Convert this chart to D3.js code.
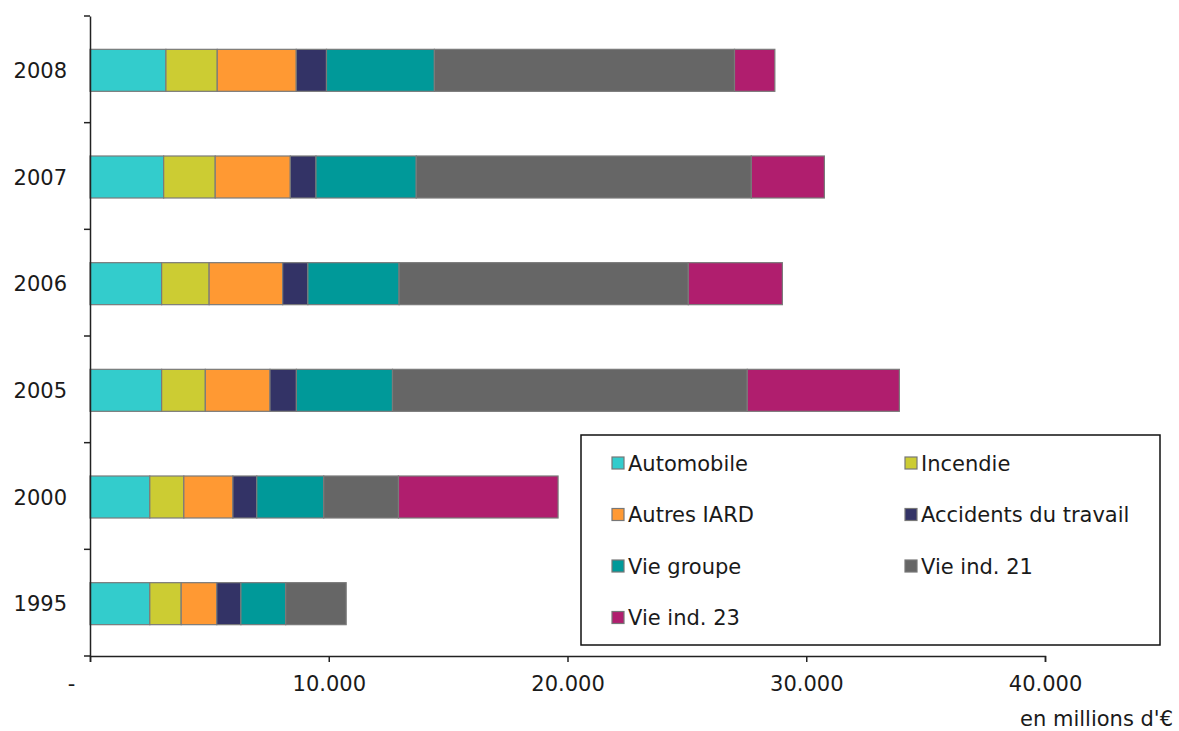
<!DOCTYPE html>
<html>
<head>
<meta charset="utf-8">
<script src="https://cdn.jsdelivr.net/npm/d3@7"></script>
<style>
  body { margin: 0; background: #fff; }
  text { font-family: "DejaVu Sans", Verdana, sans-serif; fill: #1a1a1a; }
</style>
</head>
<body>
<div id="chart"></div>
<script>
// years, top to bottom
const years = ["2008", "2007", "2006", "2005", "2000", "1995"];
const series = ["Automobile", "Incendie", "Autres IARD", "Accidents du travail", "Vie groupe", "Vie ind. 21", "Vie ind. 23"];
const colors = ["#33cccc", "#cccc33", "#ff9933", "#333366", "#009999", "#666666", "#b01e6e"];

// values in millions of euros, one array per series, same order as years
const automobile = [3180, 3085, 3000, 3000, 2505, 2505];
const incendie = [2150, 2160, 1990, 1830, 1425, 1315];
const autresIard = [3310, 3145, 3080, 2710, 2055, 1490];
const accidents = [1265, 1075, 1055, 1105, 1000, 1010];
const vieGroupe = [4520, 4200, 3820, 4025, 2805, 1875];
const vieInd21 = [12570, 14035, 12115, 14860, 3130, 2535];
const vieInd23 = [1690, 3060, 3940, 6370, 6685, 0];

const xTicks = [0, 10000, 20000, 30000, 40000];

const table = years.map((y, i) => ({
  year: y,
  "Automobile": automobile[i],
  "Incendie": incendie[i],
  "Autres IARD": autresIard[i],
  "Accidents du travail": accidents[i],
  "Vie groupe": vieGroupe[i],
  "Vie ind. 21": vieInd21[i],
  "Vie ind. 23": vieInd23[i]
}));

const width = 1179, height = 731;
const fs = 21;
const svg = d3.select("#chart").append("svg")
  .attr("width", width)
  .attr("height", height);

const x = d3.scaleLinear().domain([0, 40000]).range([90, 1045]);
const y = d3.scaleBand().domain(years).range([16, 656]);
const barH = 42;
const color = d3.scaleOrdinal().domain(series).range(colors);

const stacked = d3.stack().keys(series)(table);

svg.append("g")
  .selectAll("g")
  .data(stacked)
  .join("g")
  .attr("fill", d => color(d.key))
  .selectAll("rect")
  .data(d => d.filter(p => p[1] > p[0]))
  .join("rect")
  .attr("x", d => x(d[0]))
  .attr("width", d => x(d[1]) - x(d[0]))
  .attr("y", d => y(d.data.year) + (y.bandwidth() - barH) / 2 + 1)
  .attr("height", barH)
  .attr("stroke", "#7a7a7a")
  .attr("stroke-width", 1.2);

// x axis
const fmt = d3.formatLocale({ decimal: ",", thousands: ".", grouping: [3], currency: ["", "€"] }).format(",d");
const xAxis = svg.append("g")
  .attr("transform", "translate(0,656)")
  .call(d3.axisBottom(x).tickValues(xTicks).tickSize(6).tickPadding(14)
    .tickFormat(d => d === 0 ? "-" : fmt(d)));
xAxis.select(".domain").attr("stroke", "#222").attr("stroke-width", 1.5);
xAxis.selectAll(".tick line").attr("stroke", "#222").attr("stroke-width", 1.5);
xAxis.selectAll(".tick text").attr("font-size", fs).attr("fill", "#1a1a1a")
  .attr("dx", d => d === 0 ? -19 : 0);

// y axis
const yAxis = svg.append("g")
  .attr("transform", "translate(90,0)")
  .call(d3.axisLeft(y).tickSize(0).tickPadding(23));
yAxis.select(".domain").attr("stroke", "#222").attr("stroke-width", 1.5);
yAxis.selectAll(".tick text").attr("font-size", fs).attr("fill", "#1a1a1a").attr("dy", "0.42em");
yAxis.selectAll(".bound")
  .data(years.map(d => y(d)).concat([y.range()[1]]))
  .join("line")
  .attr("class", "bound")
  .attr("x1", -6).attr("x2", 0)
  .attr("y1", d => d).attr("y2", d => d)
  .attr("stroke", "#222").attr("stroke-width", 1.5);

svg.append("text")
  .attr("x", 1173).attr("y", 726)
  .attr("text-anchor", "end")
  .attr("font-size", fs)
  .text("en millions d'€");

// legend
const legend = svg.append("g");
legend.append("rect")
  .attr("x", 581).attr("y", 435).attr("width", 579).attr("height", 210)
  .attr("fill", "#fff").attr("stroke", "#111").attr("stroke-width", 1.5);

const items = legend.selectAll(".item")
  .data(series)
  .join("g")
  .attr("class", "item")
  .attr("transform", (d, i) => `translate(${i % 2 === 0 ? 612 : 905},${463 + Math.floor(i / 2) * 51.5})`);
items.append("rect")
  .attr("x", 0).attr("y", -6).attr("width", 12).attr("height", 12)
  .attr("fill", d => color(d)).attr("stroke", "#777").attr("stroke-width", 1.2);
items.append("text")
  .attr("x", 16).attr("y", 0).attr("dy", "0.36em")
  .attr("font-size", fs)
  .text(d => d);
</script>
</body>
</html>
